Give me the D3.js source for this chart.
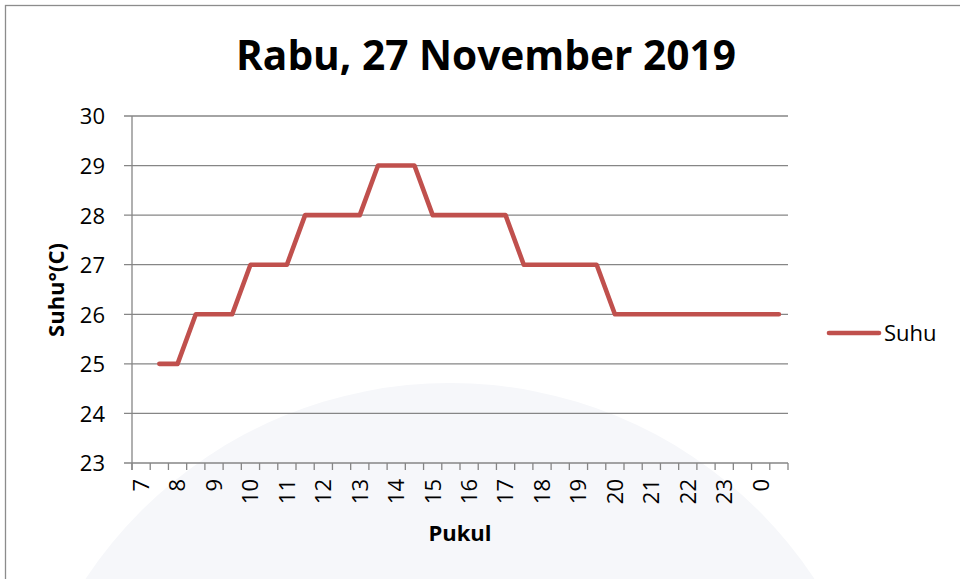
<!DOCTYPE html>
<html>
<head>
<meta charset="utf-8">
<script src="https://cdn.jsdelivr.net/npm/d3@7"></script>
<style>
  body { margin: 0; background: #fff; }
  text { font-family: "Open Sans", sans-serif; fill: #000; }
</style>
</head>
<body>
<div id="chart"></div>
<script>
// data: suhu setiap 30 menit
var pukul = ["07:00","07:30","08:00","08:30","09:00","09:30","10:00","10:30","11:00","11:30",
             "12:00","12:30","13:00","13:30","14:00","14:30","15:00","15:30","16:00","16:30",
             "17:00","17:30","18:00","18:30","19:00","19:30","20:00","20:30","21:00","21:30",
             "22:00","22:30","23:00","23:30","00:00","00:30"];
var suhu = [null,25,25,26,26,26,27,27,27,28,28,28,28,29,29,29,28,28,28,28,
            28,27,27,27,27,27,26,26,26,26,26,26,26,26,26,26];
var labelPukul = ["7","8","9","10","11","12","13","14","15","16","17","18","19","20","21","22","23","0"];
var yTicks = [23,24,25,26,27,28,29,30];

var svg_width = 960, svg_height = 579;
var margin = { top: 116, left: 132, right: 172, bottom: 116 };
var width = svg_width - margin.left - margin.right;   // 656
var height = 463 - margin.top;                         // 347

var svg = d3.select("#chart").append("svg")
    .attr("width", svg_width)
    .attr("height", svg_height);

// faint watermark
svg.append("circle")
    .attr("cx", 450).attr("cy", 820).attr("r", 437)
    .attr("fill", "#f6f7fa");

// chart border
svg.append("rect")
    .attr("x", 5.5).attr("y", 5.5)
    .attr("width", 1000).attr("height", 1000)
    .attr("fill", "none")
    .attr("stroke", "#8c8c8c")
    .attr("stroke-width", 1.3);

svg.append("text")
    .attr("x", 486).attr("y", 70)
    .attr("text-anchor", "middle")
    .attr("textLength", 500)
    .attr("lengthAdjust", "spacingAndGlyphs")
    .style("font-size", "41px")
    .style("font-weight", "bold")
    .text("Rabu, 27 November 2019");

var g = svg.append("g")
    .attr("transform", `translate(${margin.left},${margin.top})`);

var x_scale = d3.scaleBand().domain(pukul).range([0, width]).padding(0);
var y_scale = d3.scaleLinear().domain([23, 30]).range([height, 0]);

// gridlines (incl. left ticks)
g.selectAll(".grid")
    .data(yTicks)
    .enter()
    .append("line")
    .attr("x1", -8).attr("x2", width)
    .attr("y1", d => y_scale(d)).attr("y2", d => y_scale(d))
    .attr("stroke", "#868686")
    .attr("stroke-width", 1.3);

// y axis
var left_axis = d3.axisLeft(y_scale).tickValues(yTicks).tickFormat(d3.format("d")).tickSize(0).tickPadding(27);
var yAx = g.append("g").call(left_axis);
yAx.select(".domain").remove();
yAx.selectAll("text").style("font-size", "22px").attr("dy", "0.36em");
g.append("line")
    .attr("x1", 0).attr("x2", 0).attr("y1", 0).attr("y2", height + 7)
    .attr("stroke", "#868686").attr("stroke-width", 1.3);

// x tick marks at category boundaries
var bounds = pukul.map(d => x_scale(d)).concat([width]);
g.selectAll(".xt")
    .data(bounds)
    .enter()
    .append("line")
    .attr("x1", d => d).attr("x2", d => d)
    .attr("y1", height).attr("y2", height + 7)
    .attr("stroke", "#868686")
    .attr("stroke-width", 1.3);

// x labels every hour
var hourCats = pukul.filter(d => d.slice(3) == "00");
var bottom_axis = d3.axisBottom(x_scale)
    .tickValues(hourCats)
    .tickSize(0)
    .tickFormat((d, i) => labelPukul[i]);
var xAx = g.append("g")
    .attr("transform", `translate(0,${height})`)
    .call(bottom_axis);
xAx.select(".domain").remove();
xAx.selectAll("text")
    .style("font-size", "22px")
    .attr("text-anchor", "end")
    .attr("transform", "rotate(-90)")
    .attr("x", -16)
    .attr("y", 0)
    .attr("dy", "0.36em");

// line
var line = d3.line()
    .defined(d => d[1] != null)
    .x(d => x_scale(d[0]) + x_scale.bandwidth() / 2)
    .y(d => y_scale(d[1]));

g.append("path")
    .datum(pukul.map((d, i) => [d, suhu[i]]))
    .attr("d", line)
    .attr("fill", "none")
    .attr("stroke", "#c0504d")
    .attr("stroke-width", 4.6)
    .attr("stroke-linejoin", "round")
    .attr("stroke-linecap", "round");

// axis titles
svg.append("text")
    .attr("transform", "translate(64,290) rotate(-90)")
    .attr("text-anchor", "middle")
    .style("font-size", "22px")
    .style("font-weight", "bold")
    .text("Suhu°(C)");

svg.append("text")
    .attr("x", 460).attr("y", 541)
    .attr("text-anchor", "middle")
    .style("font-size", "22px")
    .style("font-weight", "bold")
    .text("Pukul");

// legend
svg.append("line")
    .attr("x1", 829).attr("x2", 879).attr("y1", 333).attr("y2", 333)
    .attr("stroke", "#c0504d").attr("stroke-width", 4.6)
    .attr("stroke-linecap", "round");
svg.append("text")
    .attr("x", 884).attr("y", 341)
    .style("font-size", "22px")
    .text("Suhu");
</script>
</body>
</html>
